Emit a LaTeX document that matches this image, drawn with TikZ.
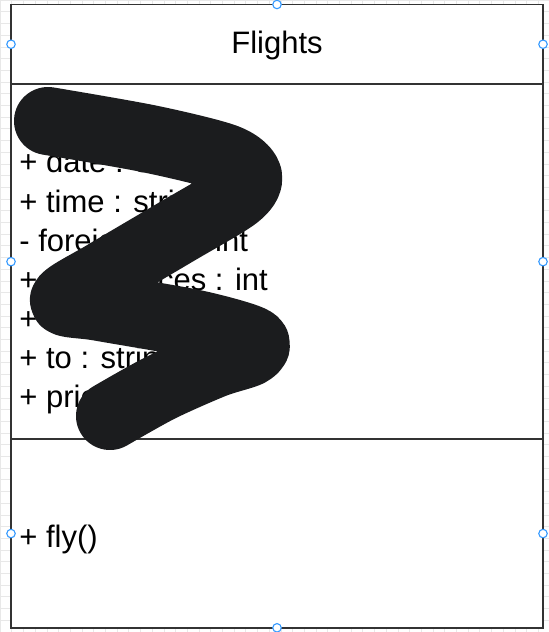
\documentclass[tikz,border=0pt]{standalone}
\usepackage{fontspec}
\setmainfont{Liberation Sans}
\definecolor{handleblue}{RGB}{51,153,255}
\definecolor{inkblack}{RGB}{27,28,30}
\definecolor{boxline}{RGB}{51,51,51}
\begin{document}
\begin{tikzpicture}[x=1bp,y=1bp]
\tikzstyle{every node}+=[inner sep=0pt]
\tikzstyle{compart}=[draw=boxline, line width=1.9bp, fill=white, outer sep=0pt, minimum width=532bp]
\tikzstyle{member}=[anchor=base west, font=\fontsize{31bp}{39bp}\selectfont]
\tikzstyle{handle}=[circle, draw=handleblue, fill=white, line width=1.1bp, minimum size=8.5bp]
\useasboundingbox (0,0) rectangle (549,-632);
\draw [black!9, line width=0.5bp, step=11.7bp] (0,0) grid (549,-632);
% class box
\node (head) [compart, minimum height=79.5bp, anchor=north west] at (11,-4.5) {};
\node (attrs) [compart, minimum height=355.3bp, anchor=north] at (head.south) {};
\node (ops) [compart, minimum height=188.5bp, anchor=north] at (attrs.south) {};
\node (title) [member, anchor=base] at ([yshift=-9bp]head.center) {Flights};
% attributes
\node (a1) [member] at (19.2,-173) {+ date : string};
\node (a2) [member] at (19.2,-212) {+ time : string};
\node (a3) [member] at (19.2,-251) {- foreignKey : int};
\node (a4) [member] at (19.2,-290) {+ noOfPlaces : int};
\node (a5) [member] at (19.2,-329) {+ from : string};
\node (a6) [member] at (19.2,-368) {+ to : string};
\node (a7) [member] at (19.2,-407) {+ price : int};
% operations
\node (o1) [member] at (19.2,-547) {+ fly()};
% scribble
\draw [inkblack, line width=68bp, line cap=round, line join=round] plot [smooth, tension=0.5] coordinates {(48,-121) (150,-139) (226,-158) (248,-176) (236,-196) (176,-232) (105,-274) (64,-300) (100,-307) (196,-324) (252,-340) (250,-352) (214,-364) (160,-388) (110,-416)};
% handles
\node (h1) [handle] at (head.west) {};
\node (h2) [handle] at (head.east) {};
\node (h3) [handle] at (head.north) {};
\node (h4) [handle] at (attrs.west) {};
\node (h5) [handle] at (attrs.east) {};
\node (h6) [handle] at (ops.west) {};
\node (h7) [handle] at (ops.east) {};
\node (h8) [handle] at (ops.south) {};
\end{tikzpicture}
\end{document}
